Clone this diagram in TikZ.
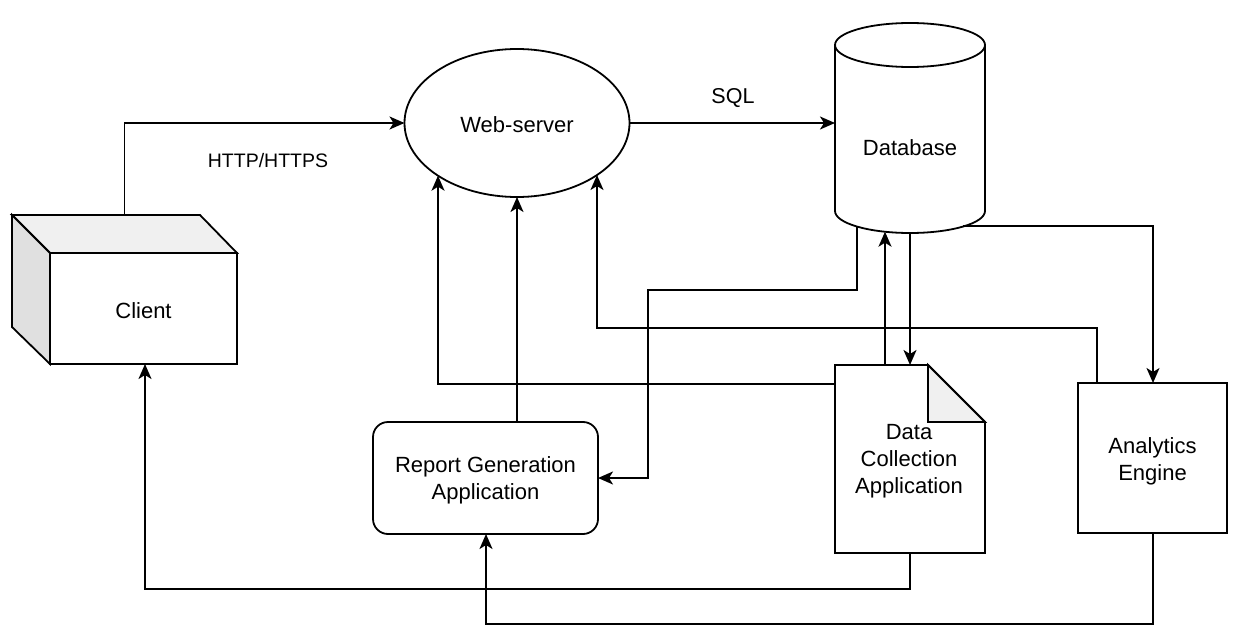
\documentclass[tikz,border=0pt]{standalone}
\usepackage{fontspec}
\setmainfont{Liberation Sans}
\usetikzlibrary{arrows.meta,shapes.geometric}
\definecolor{topgray}{HTML}{F0F0F0}
\definecolor{sidegray}{HTML}{E0E0E0}
\begin{document}
\begin{tikzpicture}[x=1pt,y=-1pt,line width=1.8pt,line join=miter,
  arr/.style={-{Stealth[length=15pt,width=13pt,inset=4pt]}},
  txt/.style={font=\fontsize{22}{27}\selectfont, align=center, inner sep=0pt},
  ghost/.style={inner sep=0pt, outer sep=0pt},
  boxshape/.style={draw, fill=white, inner sep=0pt, outer sep=0pt}]
\useasboundingbox (0,0) rectangle (1237,626);

% Client cube
\node[ghost, minimum width=225pt, minimum height=149pt] (client) at (124.5,289.5) {};
\draw[fill=topgray] (12,215) -- (200,215) -- (237,253) -- (50,253) -- cycle;
\draw[fill=sidegray] (12,215) -- (50,253) -- (50,364) -- (12,327) -- cycle;
\node[boxshape, minimum width=187pt, minimum height=111pt] (clientf) at (143.5,308.5) {};
\node[txt] (clientt) at (143.5,310.5) {Client};

% Web-server
\node[boxshape, ellipse, minimum width=225pt, minimum height=148pt] (web) at (517,123) {};
\node[txt] (webt) at (517,125) {Web-server};

% Database cylinder
\node[ghost, minimum width=150pt, minimum height=210pt] (db) at (910,128) {};
\draw[fill=white] (835,45) -- (835,211) arc[start angle=180,end angle=0,x radius=75,y radius=22] -- (985,45);
\draw[fill=white] (910,45) ellipse[x radius=75, y radius=22];
\node[txt] (dbt) at (910,147.5) {Database};

% Data Collection Application (document)
\node[ghost, minimum width=150pt, minimum height=188pt] (dca) at (910,459) {};
\draw[fill=white] (835,365) -- (928,365) -- (985,422) -- (985,553) -- (835,553) -- cycle;
\draw[fill=topgray] (928,365) -- (928,422) -- (985,422) -- cycle;
\node[txt] (dcat) at (909,461) {Data\\Collection\\Application};

% Analytics Engine
\node[boxshape, minimum width=149pt, minimum height=150pt] (ae) at (1152.5,458) {};
\node[txt] (aet) at (1152.5,461) {Analytics\\Engine};

% Report Generation Application
\node[boxshape, rounded corners=15pt, minimum width=225pt, minimum height=112pt] (rga) at (485.5,478) {};
\node[txt] (rgat) at (485.5,480) {Report Generation\\Application};

% Labels
\node[txt, font=\fontsize{19.5}{24}\selectfont] (http) at (268,161) {HTTP/HTTPS};
\node[txt, font=\fontsize{21.5}{26}\selectfont] (sql) at (733,98) {SQL};

% connection coordinates
\coordinate (dbA) at (857,226.6);
\coordinate (dbB) at (885,231.7);
\coordinate (dbC) at (963,226);
\coordinate (aeN) at (1153,383);
\coordinate (aeS) at (1153,533);
\coordinate (bendA) at (648,290);
\coordinate (aeT) at (1097,383);
\coordinate (bB) at (597,328);
\coordinate (wC) at (597,175);
\coordinate (wA) at (438,175.7);
\coordinate (dcaL) at (835,384);
\coordinate (rgaT) at (517,422);
\coordinate (bC) at (910,589);
\coordinate (bD) at (1153,624);
\coordinate (rgaB) at (486,534);
\coordinate (cliB) at (145,364);

% connectors
\draw[arr] (client.north) |- (web.west);
\draw[arr] (web.east) -- (web.east -| db.west);
\draw[arr] (dbA) |- (bendA) |- (rga.east);
\draw[arr] (dca.north -| dbB) -- (dbB);
\draw[arr] (db.south) -- (dca.north);
\draw[arr] (dbC) -| (aeN);
\draw[arr] (aeT) |- (bB) -- (wC);
\draw[arr] (dcaL) -| (wA);
\draw[arr] (rgaT) -- (web.south);
\draw[arr] (dca.south) -- (bC) -| (cliB);
\draw[arr] (aeS) -- (bD) -| (rgaB);
\end{tikzpicture}
\end{document}
